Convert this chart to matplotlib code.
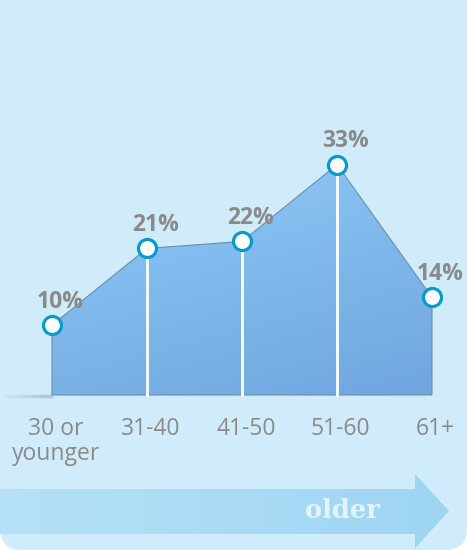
import numpy as np
import matplotlib
matplotlib.use("Agg")
import matplotlib.pyplot as plt
from matplotlib.patches import Polygon, FancyBboxPatch
from matplotlib.colors import LinearSegmentedColormap

# data
age_groups = ["30 or\nyounger", "31-40", "41-50", "51-60", "61+"]
shares = [10, 21, 22, 33, 14]
value_labels = ["10%", "21%", "22%", "33%", "14%"]

BG = "#d0ecfa"
TXT = "#8a8a8a"
RING = "#0a9acb"

fig = plt.figure(figsize=(4.67, 5.5), dpi=100)
fig.patch.set_facecolor("white")

# background card + arrow drawn in pixel space
bg = fig.add_axes([0, 0, 1, 1], zorder=0)
bg.set_xlim(0, 467)
bg.set_ylim(550, 0)
bg.axis("off")
card = FancyBboxPatch((0, -40), 467, 590, boxstyle="round,pad=0,rounding_size=22",
                      fc=BG, ec="none")
bg.add_patch(card)

arrow = Polygon([(0, 489), (415, 489), (415, 474), (449, 511), (415, 548),
                 (415, 534), (0, 534)], closed=True, fc="none", ec="none")
bg.add_patch(arrow)
grad = np.linspace(0, 1, 256).reshape(1, -1)
arrow_cmap = LinearSegmentedColormap.from_list("arr", ["#b6e1f7", "#9dd5f3"])
im = bg.imshow(grad, extent=[0, 449, 550, 474], cmap=arrow_cmap, aspect="auto",
               zorder=1)
im.set_clip_path(arrow)
bg.text(342, 511, "older", ha="center", va="center", fontsize=18.5,
        fontweight="bold", family="DejaVu Serif", color="#e2f3fc", zorder=2)

# baseline shadow
for i, a in enumerate(np.linspace(0.0, 0.3, 26)):
    bg.plot([i * 2, i * 2 + 2.5], [395.5, 395.5], color="#6f8fa8", alpha=a,
            lw=2.5, solid_capstyle="butt", zorder=1)

# data axes
ax = fig.add_axes([0, 0, 1, 1], zorder=1)
ax.patch.set_alpha(0)
ax.axis("off")
xs = np.arange(len(shares))
ppu_x = 95.0
ppu_y = 6.98
x0 = -52 / ppu_x
x1 = (467 - 52) / ppu_x
y1 = 395 / ppu_y
y0 = -(550 - 395) / ppu_y

verts = [(xs[0], 0)] + list(zip(xs, shares)) + [(xs[-1], 0)]
area = Polygon(verts, closed=True, fc="none", ec="#6e8eae", lw=0.8, zorder=3)
ax.add_patch(area)
area_cmap = LinearSegmentedColormap.from_list("area", ["#8fcaf8", "#70a6de"])
gx, gy = np.meshgrid(np.linspace(0, 1, 200), np.linspace(0, 1, 200))
g = 0.7 * gy + 0.3 * gx
fill_im = ax.imshow(g, extent=[xs[0], xs[-1], 0, max(shares)], cmap=area_cmap,
                    aspect="auto", zorder=2, origin="upper")
fill_im.set_clip_path(area)

for x, v in zip(xs[1:-1], shares[1:-1]):
    ax.plot([x, x], [0, v], color="white", lw=2, zorder=4)

ax.plot(xs, shares, ls="none", marker="o", ms=13, mfc="white", mec=RING,
        mew=2.3, zorder=5)

for x, v, lab in zip(xs, shares, value_labels):
    ax.annotate(lab, (x, v), xytext=(6, 17), textcoords="offset points",
                ha="center", va="center", fontsize=16.5, fontweight="bold",
                family="Open Sans", color=TXT, zorder=6)

for x, lab in zip(xs, age_groups):
    ax.text(x + 0.04, -3.1, lab, ha="center", va="top", fontsize=16.5,
            family="Open Sans", color=TXT, linespacing=1.05)

ax.set_xlim(x0, x1)
ax.set_ylim(y0, y1)

fig.savefig("out.png", dpi=100, facecolor="white")
